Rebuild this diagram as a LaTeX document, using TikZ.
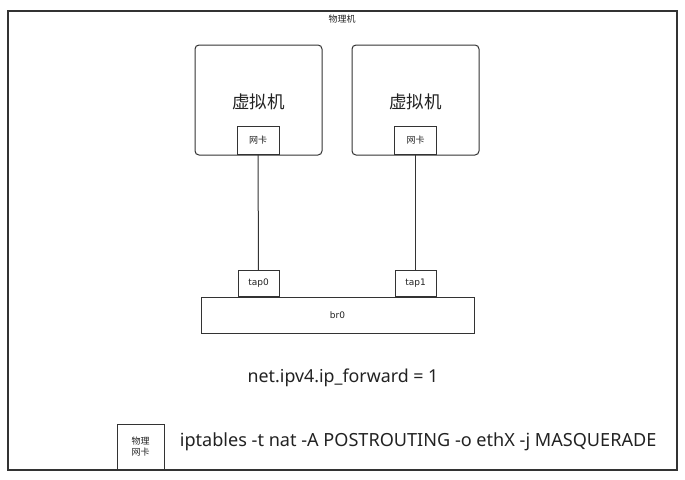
\documentclass[tikz,border=0pt]{standalone}
\usepackage{fontspec}
\setmainfont{Noto Sans}
\newfontfamily\cjk{Noto Sans CJK SC}
\newfontfamily\mono{DejaVu Sans}
\usetikzlibrary{positioning}
\definecolor{edge}{HTML}{333333}
\definecolor{ink}{HTML}{222222}

\begin{document}
\begin{tikzpicture}[x=1pt,y=-1pt,line width=1pt,draw=edge,text=ink,
	box/.style={draw,rectangle,inner sep=0pt},
	vmbox/.style={box,rounded corners=4pt,minimum width=127pt,minimum height=110pt},
	nicbox/.style={box,fill=white,minimum width=42pt,minimum height=28pt,font=\cjk\fontsize{9}{10}\selectfont},
	tapbox/.style={box,minimum width=41pt,minimum height=26pt,font=\mono\fontsize{9}{10}\selectfont},
	link/.style={draw=edge,line width=1pt}]
\useasboundingbox (0,0) rectangle (685,479);
\node[box,line width=1.3pt,minimum width=669pt,minimum height=459pt]	(host)		at (342.5,240.5)	{};
\node[font=\cjk\fontsize{9}{10}\selectfont]						(hostlbl)	at (342,19)			{物理机};
\node[vmbox]														(vm_1)		at (258.5,100)		{};
\node[vmbox]														(vm_2)		at (415.5,100)		{};
\node[font=\cjk\fontsize{17.5}{19}\selectfont]						(vmlbl_1)	at (258.5,102)		{虚拟机};
\node[font=\cjk\fontsize{17.5}{19}\selectfont]						(vmlbl_2)	at (415.5,102)		{虚拟机};
\node[nicbox,anchor=south]											(nic_1)		at (258,155)		{网卡};
\node[nicbox,anchor=south]											(nic_2)		at (415.5,155)		{网卡};
\node[box,minimum width=273pt,minimum height=36pt,font=\mono\fontsize{9}{10}\selectfont]	(br0)	at (337.5,315)	{br0};
\node[tapbox,anchor=south]											(tap_0)		at (258.5,297)		{tap0};
\node[tapbox,anchor=south]											(tap_1)		at (415.5,297)		{tap1};
\node[font=\fontsize{17.8}{20}\selectfont]							(fwd)		at (343,378)		{net.ipv4.ip\_forward = 1};
\node[box,minimum width=47pt,minimum height=46pt,align=center,font=\cjk\fontsize{9}{11}\selectfont]	(pnic)	at (140.5,447)	{物理\\网卡};
\node[anchor=west,font=\fontsize{18.1}{20}\selectfont]				(cmd)		at (176,442)		{iptables -t nat -A POSTROUTING -o ethX -j MASQUERADE};
\path[link]
(nic_1)		edge		(tap_0)
(nic_2)		edge		(tap_1)
;
\end{tikzpicture}
\end{document}
